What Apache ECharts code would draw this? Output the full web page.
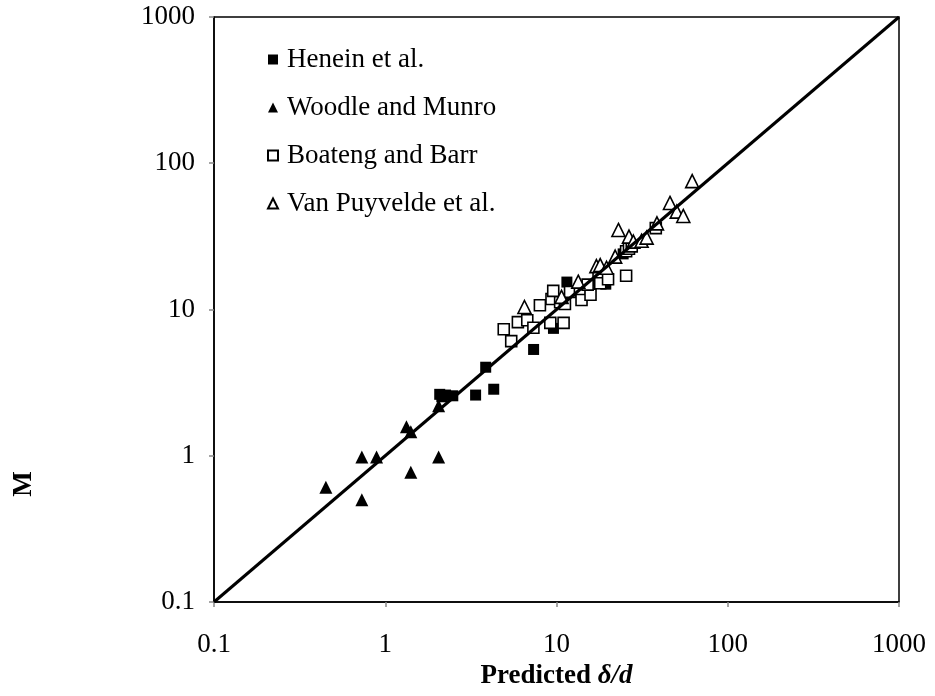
<!DOCTYPE html>
<html>
<head>
<meta charset="utf-8">
<script src="https://cdn.jsdelivr.net/npm/echarts@6/dist/echarts.min.js"></script>
<style>
html,body{margin:0;padding:0;background:#fff;}
#chart{width:935px;height:696px;}
</style>
</head>
<body>
<div id="chart"></div>
<script>
// ---- Data (Predicted δ/d, M) ----
const seriesNames = ['Henein et al.', 'Woodle and Munro', 'Boateng and Barr', 'Van Puyvelde et al.'];
const xTickLabels = ['0.1', '1', '10', '100', '1000'];
const yTickLabels = ['0.1', '1', '10', '100', '1000'];

const henein = [
  [2.08, 2.63], [2.14, 2.53], [2.25, 2.60], [2.48, 2.57], [3.37, 2.60],
  [4.30, 2.85], [3.86, 4.03], [7.35, 5.33], [9.60, 7.43], [11.5, 15.4],
  [19.4, 14.9], [24.5, 24.0]
];
const woodle = [
  [0.45, 0.61], [0.73, 0.98], [0.73, 0.50], [0.89, 0.98], [1.33, 1.58],
  [1.41, 1.46], [1.41, 0.77], [2.05, 0.98], [2.05, 2.20]
];
const boateng = [
  [4.92, 7.33], [5.44, 6.08], [5.95, 8.20], [6.75, 8.45], [7.33, 7.50],
  [8.00, 10.7], [9.20, 8.10], [11.0, 8.10], [9.35, 11.8], [9.57, 13.4],
  [10.5, 11.2], [11.2, 10.9], [12.0, 13.2], [13.7, 13.6], [14.0, 11.6],
  [15.8, 12.6], [15.2, 14.8], [17.8, 16.0], [17.6, 17.2], [18.0, 15.1],
  [20.0, 16.1], [25.5, 17.0], [25.5, 25.0], [26.5, 26.0], [27.5, 27.0],
  [38.0, 36.0]
];
const vanPuyvelde = [
  [6.5, 10.4], [10.7, 12.2], [13.4, 15.5], [17.1, 19.8], [18.0, 20.1],
  [19.6, 19.3], [22.0, 23.0], [23.0, 35.0], [26.5, 31.5], [28.1, 29.1],
  [31.4, 29.5], [33.6, 31.0], [38.6, 38.8], [46.0, 53.5], [50.4, 46.7],
  [55.0, 43.6], [62.0, 75.5]
];
const identityLine = [[0.1, 0.1], [1000, 1000]];

// ---- Chart ----
const FONT = '"Liberation Serif", "Times New Roman", serif';
const chart = echarts.init(document.getElementById('chart'), null, {renderer: 'canvas'});

function fmt(v) { return String(Number(Number(v).toPrecision(6))); }

const filled = {color: '#000', borderColor: '#000', borderWidth: 0, opacity: 1};
const open = {color: '#fff', borderColor: '#000', borderWidth: 1.6, opacity: 1};

const option = {
  animation: false,
  backgroundColor: '#fff',
  grid: {
    left: 214, right: 36, top: 17, bottom: 94,
    show: true, borderColor: '#000', borderWidth: 1.5, backgroundColor: 'transparent'
  },
  legend: {
    data: seriesNames,
    orient: 'vertical',
    left: 262, top: 41,
    itemWidth: 10, itemHeight: 10, itemGap: 21,
    textStyle: {fontFamily: FONT, fontSize: 27, color: '#000', padding: [0, 0, 0, 4], lineHeight: 27},
    selectedMode: false
  },
  xAxis: {
    type: 'log', logBase: 10, min: 0.1, max: 1000,
    name: '{b|Predicted }{bi|δ/d}',
    nameLocation: 'middle', nameGap: 58,
    nameTextStyle: {
      rich: {
        b: {fontFamily: FONT, fontSize: 27, fontWeight: 'bold', color: '#000'},
        bi: {fontFamily: FONT, fontSize: 27, fontWeight: 'bold', fontStyle: 'italic', color: '#000'}
      }
    },
    axisLine: {show: true, lineStyle: {color: '#000', width: 1.5}},
    axisTick: {show: true, length: 5, lineStyle: {color: '#888', width: 1.5}},
    minorTick: {show: false},
    splitLine: {show: false},
    axisLabel: {
      margin: 29, fontFamily: FONT, fontSize: 27, color: '#000',
      formatter: v => { const s = fmt(v); return xTickLabels.includes(s) ? s : ''; }
    }
  },
  yAxis: {
    type: 'log', logBase: 10, min: 0.1, max: 1000,
    axisLine: {show: true, lineStyle: {color: '#000', width: 1.5}},
    axisTick: {show: true, length: 5, lineStyle: {color: '#888', width: 1.5}},
    splitLine: {show: false},
    axisLabel: {
      margin: 19, fontFamily: FONT, fontSize: 27, color: '#000',
      formatter: v => { const s = fmt(v); return yTickLabels.includes(s) ? s : ''; }
    }
  },
  graphic: [{
    type: 'text',
    x: 24, y: 484,
    rotation: Math.PI / 2,
    style: {
      text: 'M', fontFamily: FONT, fontSize: 27, fontWeight: 'bold', fill: '#000',
      align: 'center', verticalAlign: 'middle'
    }
  }],
  series: [
    {name: seriesNames[0], type: 'scatter', data: henein, symbol: 'rect', symbolSize: 11, itemStyle: filled},
    {name: seriesNames[1], type: 'scatter', data: woodle, symbol: 'triangle', symbolSize: 13, itemStyle: filled},
    {name: seriesNames[2], type: 'scatter', data: boateng, symbol: 'rect', symbolSize: 11, itemStyle: open},
    {name: seriesNames[3], type: 'scatter', data: vanPuyvelde, symbol: 'triangle', symbolSize: 13, itemStyle: open},
    {
      name: 'y = x', type: 'line', data: identityLine, symbol: 'none', silent: true,
      lineStyle: {color: '#000', width: 3}, z: 3
    }
  ]
};
chart.setOption(option);
</script>
</body>
</html>
